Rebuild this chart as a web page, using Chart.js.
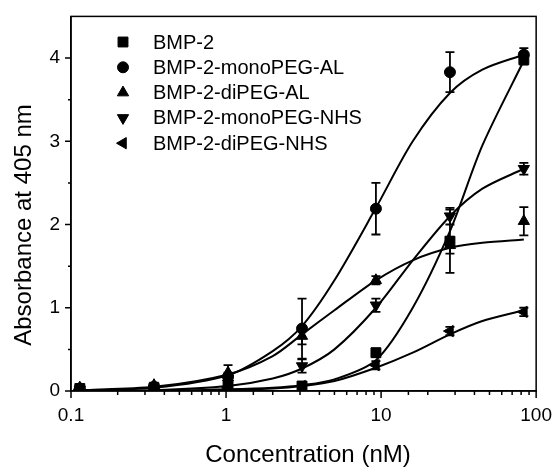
<!DOCTYPE html>
<html>
<head>
<meta charset="utf-8">
<script src="https://cdn.jsdelivr.net/npm/chart.js@4.4.0/dist/chart.umd.min.js"></script>
<style>
  html, body { margin: 0; padding: 0; background: #fff; }
  #wrap { width: 558px; height: 468px; }
</style>
</head>
<body>
<div id="wrap"><canvas id="grafico"></canvas></div>
<script>
// concentrazioni misurate (nM)
const conc = [0.114, 0.343, 1.03, 3.09, 9.26, 27.8, 83.3];

// assorbanza a 405 nm e barre d'errore
const bmp2 = [0.03, 0.04, 0.05, 0.06, 0.46, 1.80, 3.98];
const bmp2Err = [0.02, 0.01, 0.02, 0.03, 0.05, 0.38, 0.06];
const monoAL = [0.03, 0.05, 0.17, 0.75, 2.19, 3.83, 4.04];
const monoALErr = [0.02, 0.02, 0.05, 0.36, 0.31, 0.24, 0.08];
const diAL = [0.04, 0.07, 0.22, 0.66, 1.33, 1.75, 2.04];
const diALErr = [0.03, 0.03, 0.09, 0.10, 0.05, 0.10, 0.17];
const monoNHS = [0.02, 0.03, 0.09, 0.30, 1.03, 2.10, 2.67];
const monoNHSErr = [0.01, 0.01, 0.03, 0.08, 0.08, 0.10, 0.07];
const diNHS = [0.02, 0.03, 0.04, 0.06, 0.31, 0.72, 0.95];
const diNHSErr = [0.01, 0.01, 0.01, 0.02, 0.05, 0.05, 0.05];

// curve di fit
const fitX = [0.114, 0.343, 1.03, 2, 3.09, 5, 9.26, 16, 27.8, 45, 83.3];
const bmp2Fit = [0.0, 0.0, 0.02, 0.04, 0.07, 0.14, 0.37, 1.0, 1.92, 2.95, 3.97];
const monoALFit = [0.01, 0.04, 0.19, 0.48, 0.78, 1.33, 2.2, 3.0, 3.58, 3.86, 4.04];
const diALFit = [0.01, 0.05, 0.2, 0.42, 0.68, 0.97, 1.33, 1.57, 1.72, 1.78, 1.82];
const monoNHSFit = [0.0, 0.01, 0.06, 0.15, 0.27, 0.5, 1.0, 1.57, 2.1, 2.43, 2.67];
const diNHSFit = [0.0, 0.0, 0.01, 0.03, 0.06, 0.12, 0.28, 0.46, 0.68, 0.84, 0.97];

const etichette = ["BMP-2", "BMP-2-monoPEG-AL", "BMP-2-diPEG-AL", "BMP-2-monoPEG-NHS", "BMP-2-diPEG-NHS"];
const xTicks = [0.1, 1, 10, 100];
const yTicks = [0, 1, 2, 3, 4];

const FONT = "'Liberation Sans', Arial, sans-serif";

const serie = [
  { nome: etichette[0], y: bmp2, err: bmp2Err, fit: bmp2Fit, stile: "rect", rot: 0, r: 7 },
  { nome: etichette[1], y: monoAL, err: monoALErr, fit: monoALFit, stile: "circle", rot: 0, r: 5.5 },
  { nome: etichette[2], y: diAL, err: diALErr, fit: diALFit, stile: "triangle", rot: 0, r: 6.5 },
  { nome: etichette[3], y: monoNHS, err: monoNHSErr, fit: monoNHSFit, stile: "triangle", rot: 180, r: 6.5 },
  { nome: etichette[4], y: diNHS, err: diNHSErr, fit: diNHSFit, stile: "triangle", rot: -90, r: 6.5 }
];

const datasets = [];
serie.forEach(s => {
  datasets.push({
    label: s.nome + " fit",
    data: fitX.map((x, i) => ({ x: x, y: s.fit[i] })),
    borderColor: "#000",
    borderWidth: 2,
    pointRadius: 0,
    tension: 0.3,
    showLine: true,
    order: 2
  });
  datasets.push({
    label: s.nome,
    data: conc.map((x, i) => ({ x: x, y: s.y[i] })),
    err: s.err,
    showLine: false,
    pointStyle: s.stile,
    pointRotation: s.rot,
    pointRadius: s.r,
    pointHoverRadius: s.r,
    pointBackgroundColor: "#000",
    pointBorderColor: "#000",
    pointBorderWidth: 1,
    order: 1
  });
});

function isPow10(v) {
  const l = Math.log10(v);
  return Math.abs(l - Math.round(l)) < 1e-6;
}

const barreErrore = {
  id: "barreErrore",
  afterDatasetsDraw(chart) {
    const { ctx, scales: { x, y } } = chart;
    ctx.save();
    ctx.strokeStyle = "#000";
    ctx.lineWidth = 1.8;
    chart.data.datasets.forEach(ds => {
      if (!ds.err) return;
      ds.data.forEach((p, i) => {
        const px = x.getPixelForValue(p.x);
        const y1 = y.getPixelForValue(p.y + ds.err[i]);
        const y2 = y.getPixelForValue(Math.max(0, p.y - ds.err[i]));
        ctx.beginPath();
        ctx.moveTo(px, y1); ctx.lineTo(px, y2);
        ctx.moveTo(px - 4.5, y1); ctx.lineTo(px + 4.5, y1);
        ctx.moveTo(px - 4.5, y2); ctx.lineTo(px + 4.5, y2);
        ctx.stroke();
      });
    });
    ctx.restore();
  }
};

const assi = {
  id: "assi",
  afterDraw(chart) {
    const { ctx, chartArea: a, scales: { x, y } } = chart;
    ctx.save();
    ctx.strokeStyle = "#000";
    ctx.lineWidth = 1.5;
    ctx.strokeRect(a.left, a.top, a.right - a.left, a.bottom - a.top);

    ctx.beginPath();
    x.ticks.forEach(t => {
      const px = x.getPixelForValue(t.value);
      const len = isPow10(t.value) ? 7 : 4;
      ctx.moveTo(px, a.bottom); ctx.lineTo(px, a.bottom + len);
    });
    y.ticks.forEach(t => {
      if (t.value >= 4.5) return;
      const py = y.getPixelForValue(t.value);
      const len = Number.isInteger(t.value) ? 6 : 3;
      ctx.moveTo(a.left, py); ctx.lineTo(a.left - len, py);
    });
    ctx.stroke();

    // titoli degli assi
    ctx.fillStyle = "#000";
    ctx.font = "24px " + FONT;
    ctx.textAlign = "center";
    ctx.textBaseline = "middle";
    ctx.fillText("Concentration (nM)", 308, 455);
    ctx.save();
    ctx.translate(24, 225);
    ctx.rotate(-Math.PI / 2);
    ctx.fillText("Absorbance at 405 nm", 0, 0);
    ctx.restore();

    // legenda
    ctx.font = "20px " + FONT;
    ctx.textAlign = "left";
    serie.forEach((s, i) => {
      const ly = 42 + i * 25.3;
      ctx.fillStyle = "#000";
      ctx.strokeStyle = "#000";
      ctx.lineWidth = 1;
      Chart.helpers.drawPoint(ctx, { pointStyle: s.stile, rotation: s.rot, radius: s.r, borderWidth: 1 }, 123, ly);
      ctx.fillText(s.nome, 153, ly + 1);
    });
    ctx.restore();
  }
};

new Chart(document.getElementById("grafico"), {
  type: "scatter",
  data: { datasets: datasets },
  options: {
    responsive: true,
    maintainAspectRatio: false,
    animation: false,
    layout: { padding: { left: 0, top: 15, right: 21, bottom: 0 } },
    plugins: { legend: { display: false }, tooltip: { enabled: false } },
    scales: {
      x: {
        type: "logarithmic",
        position: "bottom",
        min: 0.1,
        max: 100,
        afterFit: s => { s.height = 77; },
        border: { display: true, color: "#000", width: 1.5 },
        grid: { drawOnChartArea: false, drawTicks: true, tickLength: 7, color: "transparent" },
        ticks: {
          autoSkip: false,
          maxRotation: 0,
          padding: 6,
          color: "#000",
          font: { size: 19, family: FONT },
          callback: v => {
            const t = xTicks.find(k => Math.abs(k - v) < 1e-9);
            return t === undefined ? "" : String(t);
          }
        }
      },
      y: {
        type: "linear",
        min: 0,
        max: 4.5,
        afterFit: s => { s.width = 71; },
        border: { display: true, color: "#000", width: 1.5 },
        grid: { drawOnChartArea: false, drawTicks: true, tickLength: 6, color: "transparent" },
        ticks: {
          stepSize: 0.5,
          padding: 5,
          color: "#000",
          font: { size: 19, family: FONT },
          callback: v => yTicks.includes(v) ? String(v) : ""
        }
      }
    }
  },
  plugins: [barreErrore, assi]
});
</script>
</body>
</html>
